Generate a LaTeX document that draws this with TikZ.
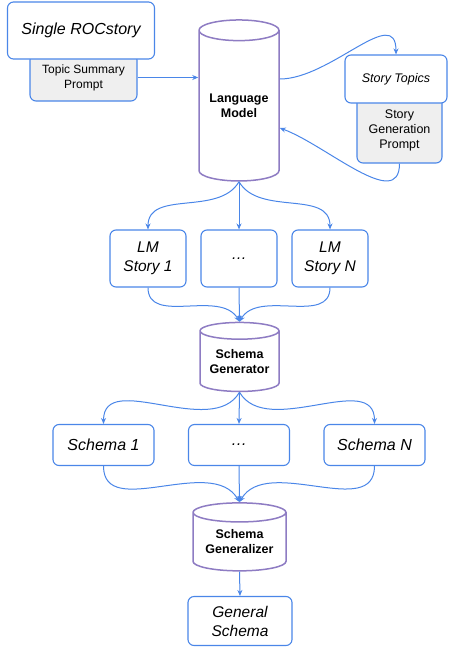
\documentclass[tikz,border=0pt]{standalone}
\usepackage{fontspec}
\setmainfont{Liberation Sans}
\usetikzlibrary{shapes.geometric,arrows.meta}
\definecolor{boxblue}{HTML}{4A86E8}
\definecolor{modelpurple}{HTML}{8E7CC3}
\definecolor{promptgrey}{HTML}{EFEFEF}

\begin{document}
\begin{tikzpicture}[x=1pt,y=1pt,
  box/.style={draw=boxblue,line width=1.1pt,rounded corners=6pt,fill=white,
    align=center,inner sep=0pt,font=\fontsize{15.5}{19}\itshape},
  prompt/.style={draw=boxblue,line width=1.1pt,rounded corners=6pt,fill=promptgrey,
    align=center,inner sep=0pt,font=\fontsize{12.5}{15}\selectfont},
  model/.style={cylinder,shape border rotate=90,draw=modelpurple,line width=1.5pt,
    fill=white,align=center,inner sep=0pt,font=\fontsize{12.5}{15}\bfseries},
  flow/.style={draw=boxblue,line width=1pt,-{Stealth[length=6pt,width=5pt]}}]
  \useasboundingbox (0,0) rectangle (450,-648);

  % input story and its prompt
  \node[prompt,minimum width=107pt,minimum height=47pt,font=\fontsize{12}{15}\selectfont] (tsp) at (83.5,-77.5) {Topic Summary\\Prompt};
  \node[box,minimum width=147pt,minimum height=57pt,font=\fontsize{16}{19}\itshape] (roc) at (81,-30.5) {Single ROCstory};

  % language model
  \node[model,minimum width=80pt,minimum height=161pt,aspect=0.35] (lm) at (239,-106) {Language\\Model};

  % topics and generation prompt
  \node[prompt,minimum width=85pt,minimum height=66pt] (sgp) at (399.5,-130) {Story\\Generation\\Prompt};
  \node[box,minimum width=102pt,minimum height=48pt,font=\fontsize{12.5}{15}\itshape] (topics) at (396,-79) {Story Topics};

  % generated stories
  \node[box,minimum width=76pt,minimum height=57pt] (story1) at (148,-258.5) {LM\\Story 1};
  \node[box,minimum width=76pt,minimum height=57pt] (storyd) at (239,-258.5) {\ldots};
  \node[box,minimum width=76pt,minimum height=57pt] (storyn) at (330,-258.5) {LM\\Story N};

  \node[model,minimum width=79pt,minimum height=69pt,aspect=0.28] (gen) at (239.5,-361.5) {Schema\\Generator};

  % schemas
  \node[box,minimum width=101pt,minimum height=41pt,font=\fontsize{16}{19}\itshape] (schema1) at (103.5,-445) {Schema 1};
  \node[box,minimum width=101pt,minimum height=41pt,font=\fontsize{16}{19}\itshape] (schemad) at (239,-445) {\ldots};
  \node[box,minimum width=101pt,minimum height=41pt,font=\fontsize{16}{19}\itshape] (scheman) at (374.5,-445) {Schema N};

  \node[model,minimum width=93pt,minimum height=68pt,aspect=0.28] (genz) at (239.5,-542) {Schema\\Generalizer};

  \node[box,minimum width=104pt,minimum height=49pt] (general) at (240,-621) {General\\Schema};

  % connectors
  \draw[flow] (tsp.east) -- (tsp.east -| lm.west);
  \draw[flow] (lm.east |- 0,-79) to[out=0,in=90,looseness=1.1] (topics.north);
  \draw[flow] (sgp.south) to[out=-90,in=-20,looseness=1] (lm.east |- 0,-128);

  \draw[flow] (lm.south) to[out=-120,in=90] (story1.north);
  \draw[flow] (lm.south) -- (storyd.north);
  \draw[flow] (lm.south) to[out=-60,in=90] (storyn.north);

  \draw[flow] (story1.south) to[out=-90,in=120] (gen.north);
  \draw[flow] (storyd.south) -- (gen.north);
  \draw[flow] (storyn.south) to[out=-90,in=60] (gen.north);

  \draw[flow] (gen.south) to[out=-120,in=90] (schema1.north);
  \draw[flow] (gen.south) -- (schemad.north);
  \draw[flow] (gen.south) to[out=-60,in=90] (scheman.north);

  \draw[flow] (schema1.south) to[out=-90,in=120] (genz.north);
  \draw[flow] (schemad.south) -- (genz.north);
  \draw[flow] (scheman.south) to[out=-90,in=60] (genz.north);

  \draw[flow] (genz.south) -- (general.north);
\end{tikzpicture}
\end{document}
